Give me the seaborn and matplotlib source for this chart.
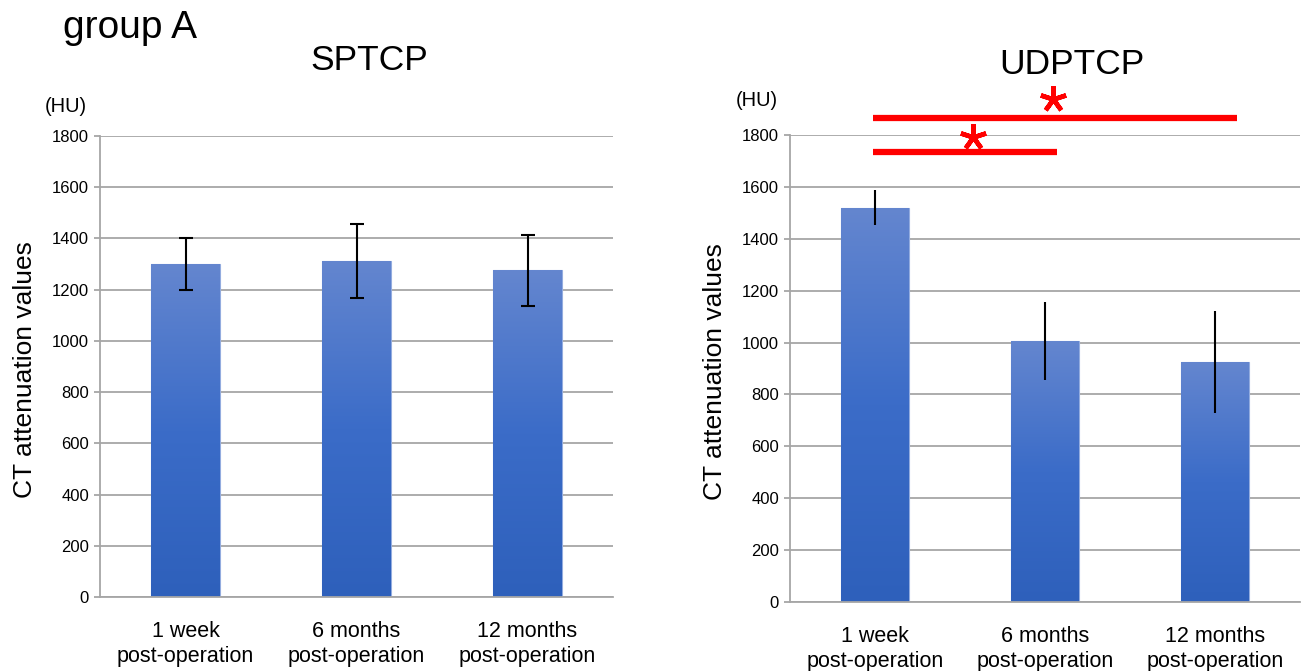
import numpy as np
import pandas as pd
import matplotlib
matplotlib.use("Agg")
import matplotlib.pyplot as plt
import seaborn as sns
from matplotlib.colors import LinearSegmentedColormap

categories = ["1 week\npost-operation", "6 months\npost-operation", "12 months\npost-operation"]
sptcp_mean = [1300, 1313, 1275]
sptcp_sd = [102, 145, 137]
udptcp_mean = [1520, 1005, 925]
udptcp_sd = [68, 150, 196]
y_ticks = [0, 200, 400, 600, 800, 1000, 1200, 1400, 1600, 1800]

sns.set_theme(style="white")
plt.rcParams['font.family'] = ['Liberation Sans', 'DejaVu Sans']
plt.rcParams['text.color'] = 'black'
plt.rcParams['xtick.color'] = 'black'
plt.rcParams['ytick.color'] = 'black'

fig = plt.figure(figsize=(13.11, 6.71), dpi=100)
axL = fig.add_axes([0.0763, 0.1103, 0.3913, 0.687])
axR = fig.add_axes([0.6026, 0.1028, 0.389, 0.696])

cmap = LinearSegmentedColormap.from_list("g", ["#2e60bb", "#3b6cc8", "#6486cf"])
grid_c = "#a6a6a6"


def draw(ax, mean, sd, capsize):
    df = pd.DataFrame({"period": categories, "value": mean})
    sns.barplot(data=df, x="period", y="value", ax=ax, width=0.4,
                color="#3a6cc6", edgecolor="#93acdf", linewidth=0.8,
                zorder=2, errorbar=None)
    grad = np.linspace(0, 1, 256).reshape(-1, 1)
    for p in list(ax.patches):
        x0 = p.get_x()
        w = p.get_width()
        h = p.get_height()
        im = ax.imshow(grad, cmap=cmap, origin='lower',
                       extent=[x0, x0 + w, 0, h], aspect='auto', zorder=2.5)
        im.set_clip_path(p)
    ax.errorbar(range(len(mean)), mean, yerr=sd, fmt='none', ecolor='black',
                elinewidth=1.5, capsize=capsize, capthick=1.5, zorder=3)
    ax.set_xlim(-0.5, 2.5)
    ax.set_ylim(0, 1800)
    ax.set_yticks(y_ticks)
    ax.set_yticklabels([str(t) for t in y_ticks], fontsize=12)
    ax.set_xticks(range(len(categories)))
    ax.set_xticklabels(categories, fontsize=15.5, linespacing=1.25)
    ax.set_xlabel("")
    ax.set_ylabel("")
    ax.yaxis.grid(True, color=grid_c, lw=1.3)
    ax.set_axisbelow(True)
    for s in ["top", "right"]:
        ax.spines[s].set_visible(False)
    for s in ["left", "bottom"]:
        ax.spines[s].set_color(grid_c)
        ax.spines[s].set_linewidth(1.3)
    ax.tick_params(axis='y', left=True, length=4, width=1.3, color=grid_c, pad=4, labelcolor='black')
    ax.tick_params(axis='x', length=0, pad=17, labelcolor='black')


draw(axL, sptcp_mean, sptcp_sd, 5)
draw(axR, udptcp_mean, udptcp_sd, 0)

# significance bars
axR.plot([-0.01, 2.13], [1867, 1867], color='red', lw=4.5, clip_on=False, solid_capstyle='butt', zorder=5)
axR.plot([-0.01, 1.07], [1733, 1733], color='red', lw=4.5, clip_on=False, solid_capstyle='butt', zorder=5)
axR.plot([1.047], [1938], marker=(5, 2, 0), color='red', markersize=19, mew=3.3, clip_on=False, zorder=5)
axR.plot([0.575], [1793], marker=(5, 2, 0), color='red', markersize=19, mew=3.3, clip_on=False, zorder=5)

fig.text(63 / 1311, 1 - 28 / 671, "group A", fontsize=28, ha='left', va='center')
fig.text(369 / 1311, 1 - 60 / 671, "SPTCP", fontsize=25.5, ha='center', va='center')
fig.text(1072 / 1311, 1 - 64 / 671, "UDPTCP", fontsize=25.5, ha='center', va='center')
fig.text(66 / 1311, 1 - 107 / 671, "(HU)", fontsize=14.5, ha='center', va='center')
fig.text(757 / 1311, 1 - 101 / 671, "(HU)", fontsize=14.5, ha='center', va='center')
fig.text(25 / 1311, 1 - 370 / 671, "CT attenuation values", fontsize=19, rotation=90, ha='center', va='center')
fig.text(715 / 1311, 1 - 372 / 671, "CT attenuation values", fontsize=19, rotation=90, ha='center', va='center')

fig.savefig("out.png", dpi=100)
